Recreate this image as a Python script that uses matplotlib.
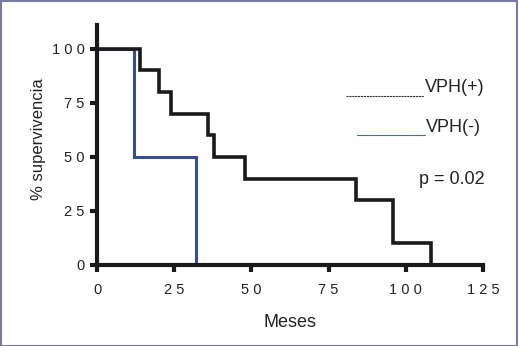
import matplotlib
matplotlib.use("Agg")
import matplotlib.pyplot as plt
from matplotlib.patches import Rectangle
from matplotlib.lines import Line2D

# Data (Kaplan-Meier steps)
vph_pos_t = [0, 14, 20, 24, 36, 38, 48, 84, 96, 108]
vph_pos_s = [100, 90, 80, 70, 60, 50, 40, 30, 10, 0]
vph_neg_t = [0, 12, 32]
vph_neg_s = [100, 50, 0]
xticks = [0, 25, 50, 75, 100, 125]
yticks = [0, 25, 50, 75, 100]
xtick_labels = ["0", "2 5", "5 0", "7 5", "1 0 0", "1 2 5"]
ytick_labels = ["0", "2 5", "5 0", "7 5", "1 0 0"]

plt.rcParams['font.family'] = ['Liberation Sans', 'DejaVu Sans']

fig = plt.figure(figsize=(5.18, 3.46), dpi=100)
W, H = 518, 346
ax = fig.add_axes([97 / W, 1 - 265 / H, (483 - 97) / W, (265 - 25) / H])

black = "#1a1a1a"
blue = "#3a4c94"

ax.step(vph_neg_t, vph_neg_s, where="post", color=blue, lw=2.2, solid_joinstyle="miter", zorder=3)
ax.step(vph_pos_t, vph_pos_s, where="post", color=black, lw=2.6, solid_joinstyle="miter", zorder=4)

ax.set_xlim(0, 125)
ax.set_ylim(0, 111)
for s in ["top", "right"]:
    ax.spines[s].set_visible(False)
for s in ["left", "bottom"]:
    ax.spines[s].set_linewidth(3)
    ax.spines[s].set_color(black)
    ax.spines[s].set_zorder(5)
ax.set_xticks(xticks)
ax.set_xticklabels(xtick_labels)
ax.set_yticks(yticks)
ax.set_yticklabels(ytick_labels)
ax.tick_params(axis="both", direction="out", length=5, width=3, color=black,
               labelsize=10.5, labelcolor="#222222")
ax.tick_params(axis="x", pad=8)
ax.tick_params(axis="y", pad=4)
ax.set_xlabel("Meses", fontsize=13, color="#222222", labelpad=12)
ax.set_ylabel("% supervivencia", fontsize=12, color="#222222")
ax.yaxis.set_label_coords(-0.132, 0.525)

# legend-like annotations
fig.add_artist(Line2D([346 / W, 424 / W], [1 - 96 / H, 1 - 96 / H], color="#333333", lw=0.8,
                      linestyle=(0, (2, 0.6))))
fig.text(425 / W, 1 - 88 / H, "VPH(+)", fontsize=13, color="#222222", va="center", ha="left")
fig.add_artist(Line2D([357 / W, 425 / W], [1 - 135 / H, 1 - 135 / H], color="#4466cc", lw=0.8))
fig.text(426 / W, 1 - 128 / H, "VPH(-)", fontsize=13, color="#222222", va="center", ha="left")
fig.text(419 / W, 1 - 180 / H, "p = 0.02", fontsize=13, color="#222222", va="center", ha="left")

# figure border
fig.add_artist(Rectangle((0.5 / W, 0.5 / H), 1 - 1.5 / W, 1 - 1.5 / H, transform=fig.transFigure,
                         fill=False, edgecolor="#7a7aa6", lw=1.5))

fig.savefig("out.png", dpi=100)
